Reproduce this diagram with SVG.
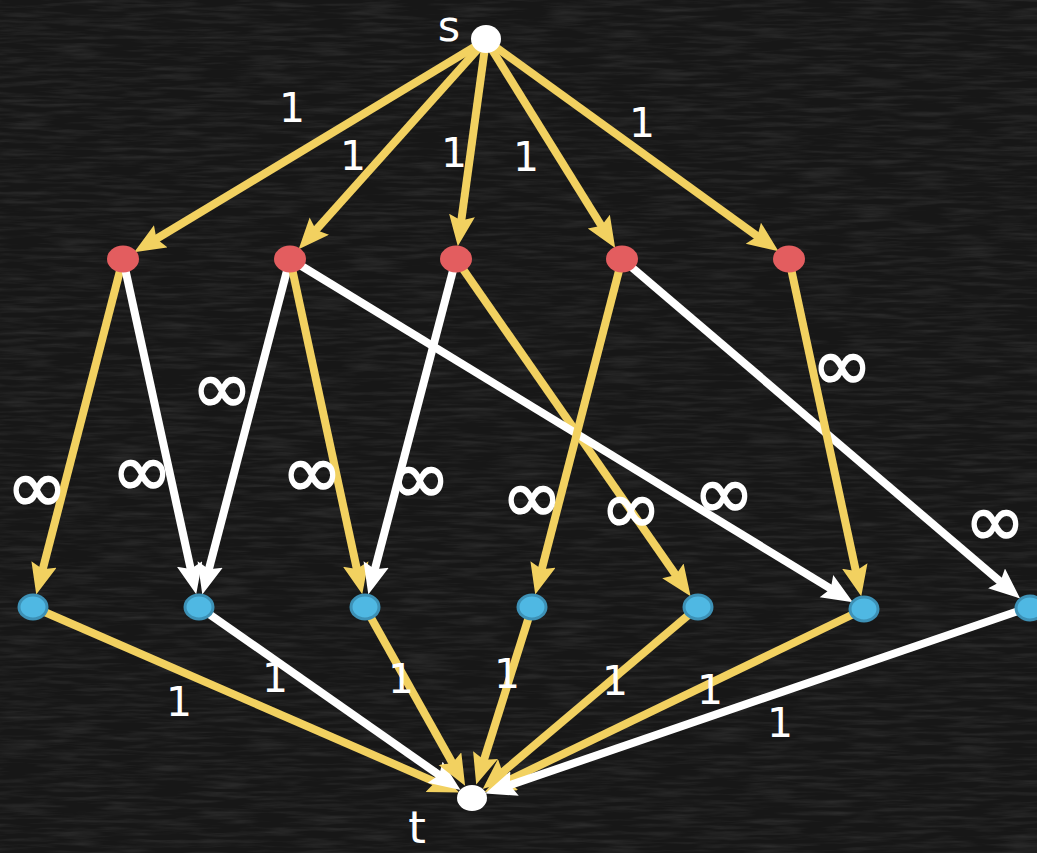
<svg xmlns="http://www.w3.org/2000/svg" width="1037" height="853" viewBox="0 0 1037 853">
<defs>
<filter id="chalk" x="0" y="0" width="100%" height="100%">
<feTurbulence type="fractalNoise" baseFrequency="0.02 0.25" numOctaves="3" seed="4" result="n"/>
<feColorMatrix in="n" type="matrix" values="0 0 0 0 1  0 0 0 0 1  0 0 0 0 1  0 0 0 0.5 -0.2"/>
</filter>
<marker id="ay" markerUnits="userSpaceOnUse" markerWidth="34" markerHeight="28" refX="14" refY="13" orient="auto" viewBox="0 0 34 28">
<path d="M0,0 L31,13 L0,26 L5,13 Z" fill="#f2d160"/>
</marker>
<marker id="aw" markerUnits="userSpaceOnUse" markerWidth="34" markerHeight="28" refX="14" refY="13" orient="auto" viewBox="0 0 34 28">
<path d="M0,0 L31,13 L0,26 L5,13 Z" fill="#ffffff"/>
</marker>
<style>
.y{stroke:#f2d160;stroke-width:8;fill:none;marker-end:url(#ay)}
.w{stroke:#ffffff;stroke-width:8;fill:none;marker-end:url(#aw)}
.lab{font-family:"DejaVu Sans",sans-serif;fill:#ffffff;text-anchor:middle}
.one{font-size:41px}
.inf{font-size:73px;stroke:#ffffff;stroke-width:1.6}
.red{fill:#e35d5f}
.blue{fill:#4fb8e3;stroke:#3d91b6;stroke-width:3}
.wn{fill:#ffffff}
</style>
</defs>
<rect width="1037" height="853" fill="#171717"/>
<rect width="1037" height="853" filter="url(#chalk)" opacity="0.35"/>
<g id="connectors">
<line class="y" x1="486" y1="40" x2="148.7" y2="243.5"/>
<line class="y" x1="486" y1="40" x2="310" y2="236.6"/>
<line class="y" x1="486" y1="40" x2="460.1" y2="229.3"/>
<line class="y" x1="486" y1="40" x2="606.2" y2="233.5"/>
<line class="y" x1="486" y1="40" x2="764.7" y2="241.4"/>
<line class="y" x1="123" y1="259" x2="40.5" y2="578"/>
<line class="w" x1="123" y1="259" x2="192.6" y2="577.7"/>
<line class="w" x1="290" y1="259" x2="206.6" y2="578"/>
<line class="y" x1="290" y1="259" x2="358.7" y2="577.7"/>
<line class="y" x1="456" y1="259" x2="680.9" y2="582.4"/>
<line class="w" x1="290" y1="259" x2="838.4" y2="593.4"/>
<line class="w" x1="456" y1="259" x2="372.6" y2="578"/>
<line class="y" x1="622" y1="259" x2="539.5" y2="578"/>
<line class="w" x1="622" y1="259" x2="1007.2" y2="587.5"/>
<line class="y" x1="789" y1="259" x2="857.7" y2="579.7"/>
<line class="y" x1="33" y1="607" x2="443.6" y2="785.6"/>
<line class="w" x1="199" y1="607" x2="446.6" y2="780.2"/>
<line class="y" x1="365" y1="607" x2="456.8" y2="770.9"/>
<line class="y" x1="532" y1="607" x2="481.3" y2="768.4"/>
<line class="y" x1="698" y1="607" x2="495.7" y2="778"/>
<line class="y" x1="864" y1="609" x2="499.9" y2="784.5"/>
<line class="w" x1="1030" y1="607" x2="501.3" y2="788"/>
</g>
<g id="labels">
<text class="lab one" x="292" y="122">1</text>
<text class="lab one" x="353" y="170">1</text>
<text class="lab one" x="454" y="167">1</text>
<text class="lab one" x="526" y="171">1</text>
<text class="lab one" x="642" y="137">1</text>
<text class="lab inf" x="37" y="512">∞</text>
<text class="lab inf" x="142" y="496">∞</text>
<text class="lab inf" x="222" y="413">∞</text>
<text class="lab inf" x="312" y="497">∞</text>
<text class="lab inf" x="420" y="503">∞</text>
<text class="lab inf" x="532" y="522">∞</text>
<text class="lab inf" x="631" y="533">∞</text>
<text class="lab inf" x="724" y="518">∞</text>
<text class="lab inf" x="842" y="390">∞</text>
<text class="lab inf" x="995" y="546">∞</text>
<text class="lab one" x="179" y="716">1</text>
<text class="lab one" x="275" y="692">1</text>
<text class="lab one" x="401" y="693">1</text>
<text class="lab one" x="507" y="688">1</text>
<text class="lab one" x="615" y="695">1</text>
<text class="lab one" x="710" y="704">1</text>
<text class="lab one" x="780" y="737">1</text>
<text class="lab" x="449" y="41" font-size="43">s</text>
<text class="lab" x="417" y="843" font-size="45">t</text>
</g>
<g id="node-s"><ellipse class="wn" cx="486" cy="39" rx="15" ry="14"/></g>
<g id="node-r1"><ellipse class="red" cx="123" cy="259" rx="16" ry="13.5"/></g>
<g id="node-r2"><ellipse class="red" cx="290" cy="259" rx="16" ry="13.5"/></g>
<g id="node-r3"><ellipse class="red" cx="456" cy="259" rx="16" ry="13.5"/></g>
<g id="node-r4"><ellipse class="red" cx="622" cy="259" rx="16" ry="13.5"/></g>
<g id="node-r5"><ellipse class="red" cx="789" cy="259" rx="16" ry="13.5"/></g>
<g id="node-b1"><ellipse class="blue" cx="33" cy="607" rx="14" ry="12"/></g>
<g id="node-b2"><ellipse class="blue" cx="199" cy="607" rx="14" ry="12"/></g>
<g id="node-b3"><ellipse class="blue" cx="365" cy="607" rx="14" ry="12"/></g>
<g id="node-b4"><ellipse class="blue" cx="532" cy="607" rx="14" ry="12"/></g>
<g id="node-b5"><ellipse class="blue" cx="698" cy="607" rx="14" ry="12"/></g>
<g id="node-b6"><ellipse class="blue" cx="864" cy="609" rx="14" ry="12"/></g>
<g id="node-b7"><ellipse class="blue" cx="1030" cy="608" rx="14" ry="12"/></g>
<g id="node-t"><ellipse class="wn" cx="472" cy="798" rx="15" ry="13"/></g>
</svg>
